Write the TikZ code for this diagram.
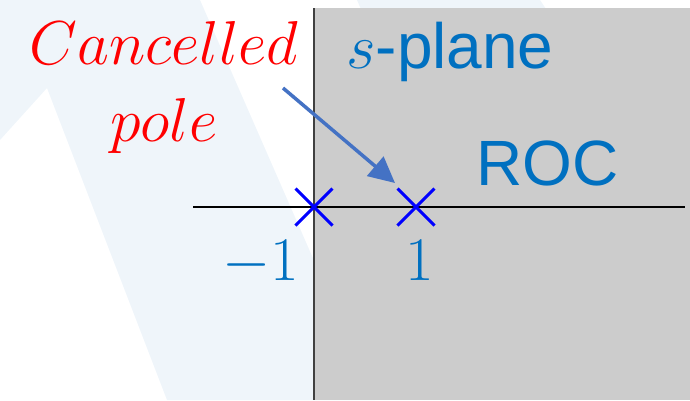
\documentclass[tikz,border=0pt]{standalone}
\usepackage{fix-cm}
\usepackage{fontspec}
\setsansfont{Liberation Sans}
\usetikzlibrary{shapes.misc,arrows.meta}

\definecolor{rocblue}{HTML}{0070C0}
\definecolor{arrowblue}{HTML}{4472C4}
\definecolor{rocgray}{HTML}{CCCCCC}
\definecolor{axisgray}{HTML}{404040}
\definecolor{wash}{HTML}{EFF5FA}

\tikzset{
  bigtext/.style={font=\fontsize{62}{77}\selectfont, inner sep=0pt},
  sanstext/.style={font=\fontsize{64}{77}\selectfont\sffamily, inner sep=0pt},
  polemark/.style={cross out, draw=blue, line width=3pt, minimum size=34pt, inner sep=0pt},
}

\begin{document}
\begin{tikzpicture}[x=1pt,y=-1pt]
            \useasboundingbox (0,0) rectangle (690,400);
            % faint background
            \fill[wash] (0,0) -- (200,0) -- (375,400) -- (167,400) -- (47,88) -- (0,140) -- cycle;
            \fill[wash] (357,0) -- (540,0) -- (560,30) -- (370,30) -- cycle;
            % region of convergence and axes
            \fill[rocgray] (314,8) rectangle (690,400);
            \draw[black, line width=1.2pt] (193,207) -- (685,207);
            \draw[axisgray, line width=2pt] (314,8) -- (314,400);
            % poles
            \node[polemark] (pm) at (314,207) {};
            \node[polemark] (pp) at (416,207) {};
            \node[bigtext, text=rocblue, anchor=base] (lm) at (261,280) {$-1$};
            \node[bigtext, text=rocblue, anchor=base] (lp) at (420,280) {$1$};
            % labels
            \node[sanstext, text=rocblue, anchor=base west] (splane) at (346,68) {$s$-plane};
            \node[sanstext, text=rocblue, anchor=base west] (roc) at (476,185) {ROC};
            \node[bigtext, text=red, anchor=base] (cname) at (164,64) {$Cancelled$};
            \node[bigtext, text=red, anchor=base] (cpole) at (164,141) {$pole$};
            \coordinate (tail) at (283,88);
            \coordinate (tip) at (395,183);
            \draw[arrowblue, line width=3.5pt, -{Triangle[length=26pt,width=25pt]}] (tail) -- (tip);
        \end{tikzpicture}
\end{document}
